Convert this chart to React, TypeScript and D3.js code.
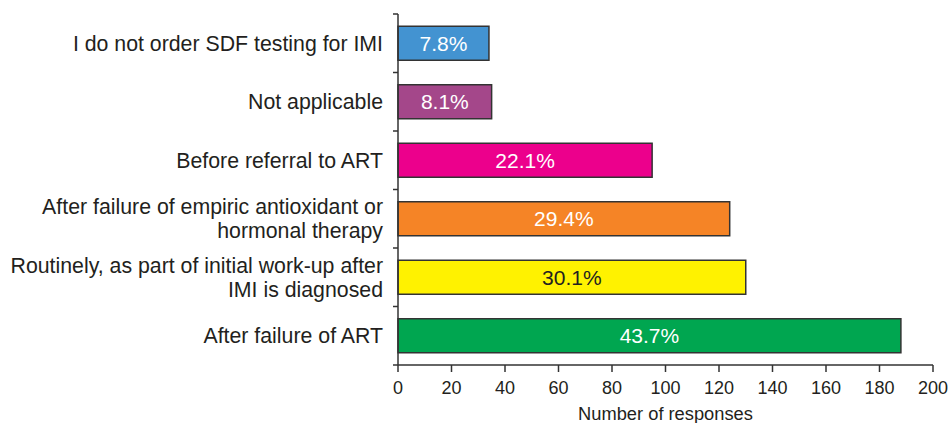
import React from "react";
import * as d3 from "d3";

const categories: string[][] = [
  ["I do not order SDF testing for IMI"],
  ["Not applicable"],
  ["Before referral to ART"],
  ["After failure of empiric antioxidant or", "hormonal therapy"],
  ["Routinely, as part of initial work-up after", "IMI is diagnosed"],
  ["After failure of ART"],
];
const responses: number[] = [34, 35, 95, 124, 130, 188];
const percentLabels: string[] = ["7.8%", "8.1%", "22.1%", "29.4%", "30.1%", "43.7%"];
const barColors: string[] = ["#4393d1", "#a4478a", "#ec008c", "#f58426", "#fff200", "#00a650"];
const labelColors: string[] = ["#ffffff", "#ffffff", "#ffffff", "#ffffff", "#231f20", "#ffffff"];
const xTicks: number[] = [0, 20, 40, 60, 80, 100, 120, 140, 160, 180, 200];
const xTitle = "Number of responses";

const W = 949;
const H = 423;
const FONT = "'Liberation Sans', Arial, Helvetica, sans-serif";
const TEXT = "#231f20";

export default function App() {
  const x = d3.scaleLinear().domain([0, 200]).range([398, 933]);
  const n = categories.length;
  const bandEdges = d3.range(n + 1).map((i) => 14 + (i * (365 - 14)) / n);
  const stepCenter = (i: number) => (bandEdges[i] + bandEdges[i + 1]) / 2;

  return (
    <div style={{ position: "absolute", left: 0, top: 0 }}>
      <svg width={W} height={H} style={{ display: "block", background: "#fff" }}>
        {responses.map((v, i) => (
          <g key={i}>
            <rect
              x={x(0)}
              y={stepCenter(i) - 17}
              width={x(v) - x(0)}
              height={34}
              fill={barColors[i]}
              stroke="#333333"
              strokeWidth={1.5}
            />
            <text
              x={(x(0) + x(v)) / 2}
              y={stepCenter(i)}
              dy="0.36em"
              textAnchor="middle"
              fontFamily={FONT}
              fontSize={21}
              fill={labelColors[i]}
            >
              {percentLabels[i]}
            </text>
          </g>
        ))}
        <line x1={x(0)} x2={x(0)} y1={14} y2={365} stroke="#333" strokeWidth={1.5} />
        {bandEdges.map((e, i) => (
          <line key={i} x1={x(0) - 5} x2={x(0)} y1={e} y2={e} stroke="#333" strokeWidth={1.5} />
        ))}
        {categories.map((lines, i) => (
          <text key={i} textAnchor="end" fontFamily={FONT} fontSize={21.3} fill={TEXT}>
            {lines.map((ln, j) => (
              <tspan
                key={j}
                x={383}
                y={stepCenter(i) + (j - (lines.length - 1) / 2) * 24}
                dy="0.36em"
              >
                {ln}
              </tspan>
            ))}
          </text>
        ))}
        <line x1={x(0)} x2={x(200)} y1={365} y2={365} stroke="#333" strokeWidth={1.5} />
        {xTicks.map((t) => (
          <g key={t}>
            <line x1={x(t)} x2={x(t)} y1={365} y2={372} stroke="#333" strokeWidth={1.5} />
            <text
              x={x(t)}
              y={388}
              dy="0.36em"
              textAnchor="middle"
              fontFamily={FONT}
              fontSize={18}
              fill={TEXT}
            >
              {t}
            </text>
          </g>
        ))}
        <text
          x={(x(0) + x(200)) / 2}
          y={413}
          dy="0.36em"
          textAnchor="middle"
          fontFamily={FONT}
          fontSize={18.3}
          fill={TEXT}
        >
          {xTitle}
        </text>
      </svg>
    </div>
  );
}
